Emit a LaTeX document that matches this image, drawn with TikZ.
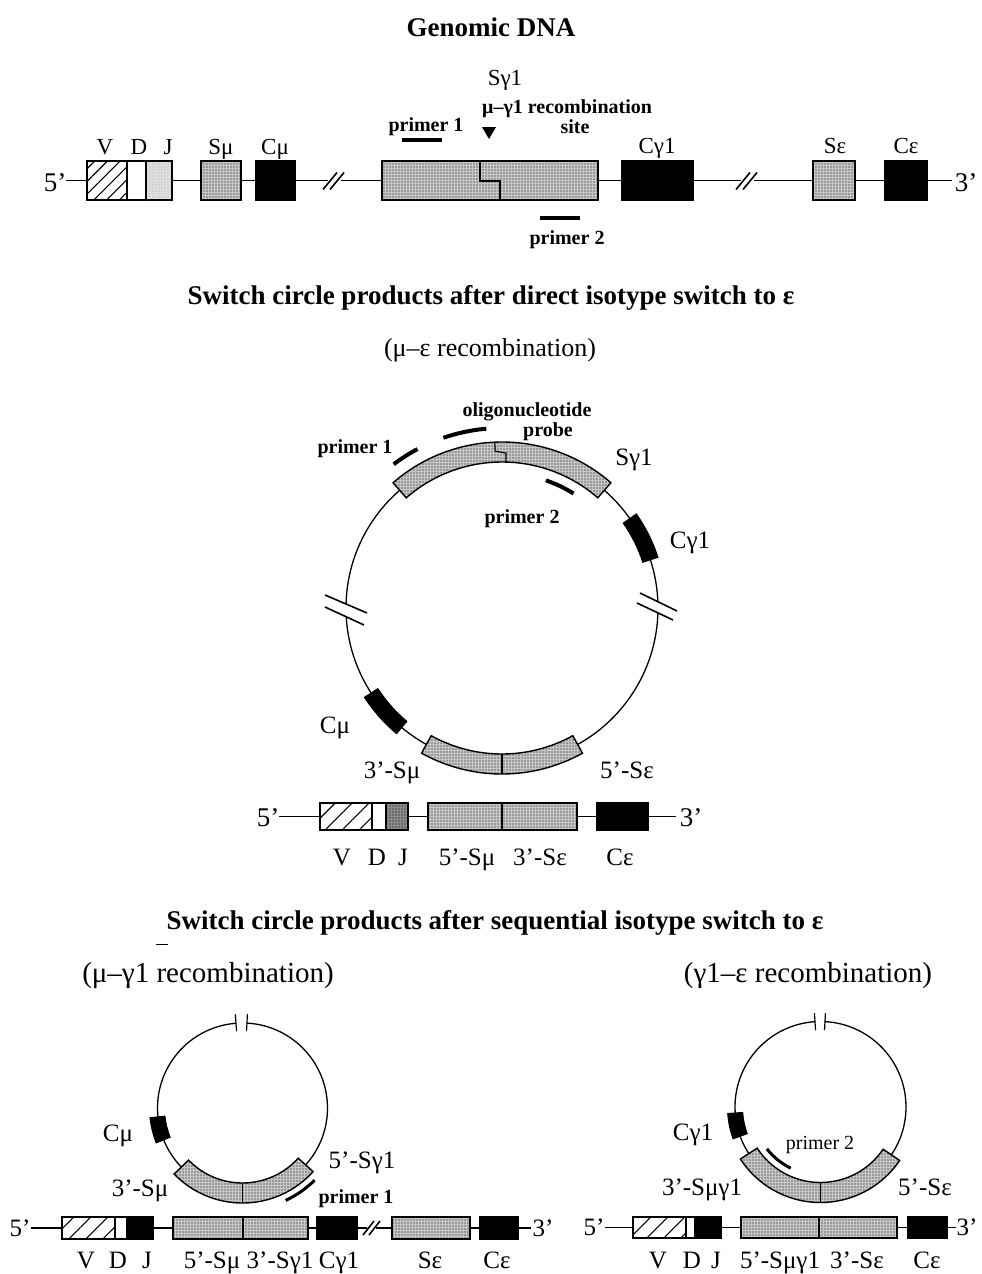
\documentclass[tikz,border=0pt]{standalone}
\usepackage{fontspec}
\setmainfont{Liberation Serif}
\usetikzlibrary{patterns.meta}
\newcommand\fs[1]{\fontsize{#1}{#1}\selectfont}
% box: style, name, x1, x2, ytop, ybottom
\newcommand\bx[6]{\node[#1, minimum width={#4-#3}, minimum height={#6-#5}] (#2) at (#3,#5) {};}
% annular box: style, a1, a2, rin, rout
\newcommand\abox[5]{\path[#1] (#2:#5) arc[start angle=#2,end angle=#3,radius=#5] -- (#3:#4) arc[start angle=#3,end angle=#2,radius=#4] -- cycle;}
\tikzset{
 ln/.style={line width=1.3pt},
 box/.style={draw, line width=1.5pt, inner sep=0pt, outer sep=0pt, anchor=north west},
 stipdots/.style={postaction={pattern={Dots[distance=3pt,radius=0.65pt]}, pattern color=black}},
 stip/.style={box, fill=black!22, stipdots},
 jlight/.style={box, fill=black!12, postaction={pattern={Dots[distance=3pt,radius=0.45pt]}, pattern color=black!70}},
 jdark/.style={box, fill=black!45, stipdots},
 hatchA/.style={box, pattern={Lines[angle=45,distance=9pt,line width=1.1pt]}, pattern color=black},
 hatchB/.style={box, pattern={Lines[angle=45,distance=12pt,line width=1.1pt]}, pattern color=black},
 wht/.style={box, fill=white},
 blk/.style={box, fill=black},
 astip/.style={draw, line width=1.4pt, fill=black!22, stipdots},
 ablk/.style={draw, line width=1pt, fill=black},
 pbar/.style={line width=4pt},
 pbarthin/.style={line width=3pt},
 brk/.style={line width=1.6pt},
 L/.style={inner sep=0pt, font={\fs{23}}, text height=15pt, text depth=0pt},
 R/.style={inner sep=0pt, font={\fs{25}}, text height=16.5pt, text depth=0pt},
 Q/.style={inner sep=0pt, font={\fs{27}}, text height=18pt, text depth=0pt},
 Qs/.style={inner sep=0pt, font={\fs{25}}, text height=17pt, text depth=0pt},
 P/.style={inner sep=0pt, font={\bfseries\fs{20}}, text height=13.5pt, text depth=0pt},
 Ps/.style={inner sep=0pt, font={\fs{20}}, text height=13pt, text depth=0pt},
 H/.style={inner sep=0pt, font={\bfseries\fs{27}}, text height=18pt, text depth=0pt},
 S/.style={inner sep=0pt, font={\fs{26}}, text height=17pt, text depth=0pt},
 Sb/.style={inner sep=0pt, font={\fs{29}}, text height=19pt, text depth=0pt},
}
\begin{document}
\begin{tikzpicture}[x=1pt,y=-1pt]
\fill[white] (0,0) rectangle (982,1274);
\useasboundingbox (0,0) rectangle (982,1274);

% ---------------- Genomic DNA ----------------
\node[H] (t1) at (491,27) {Genomic DNA};
\node[L] (tSg) at (505,78) {Sγ1};

\node[Q] (g5) at (55,182) {5'};
\bx{hatchA}{gV}{87}{127}{161}{200}
\bx{wht}{gD}{127}{146}{161}{200}
\bx{jlight}{gJ}{146}{172}{161}{200}
\bx{stip}{gSm}{201}{241}{161}{200}
\bx{blk}{gCm}{256}{295}{161}{200}
\coordinate (gb1) at (335,180.5);
\bx{stip}{gSg}{382}{598}{161}{200}
\bx{blk}{gCg}{622}{693}{161}{200}
\coordinate (gb2) at (748,180.5);
\bx{stip}{gSe}{813}{855}{161}{200}
\bx{blk}{gCe}{885}{927}{161}{200}
\node[Q] (g3) at (966,182) {3'};
\coordinate (g3s) at (952,180.5);

\draw[ln] (gV.west) -- (gV.west -| g5.east);
\draw[ln] (gJ.east) -- (gSm.west);
\draw[ln] (gSm.east) -- (gCm.west);
\draw[ln] (gCm.east) -- ([xshift=-7pt]gb1);
\draw[ln] ([xshift=6pt]gb1) -- (gSg.west);
\draw[ln] (gSg.east) -- (gCg.west);
\draw[ln] (gCg.east) -- ([xshift=-7pt]gb2);
\draw[ln] ([xshift=6pt]gb2) -- (gSe.west);
\draw[ln] (gSe.east) -- (gCe.west);
\draw[ln] (gCe.east) -- (g3s);
\draw[brk] ([shift={(-12,9)}]gb1) -- ++(14,-17);
\draw[brk] ([shift={(-5,9)}]gb1) -- ++(14,-17);
\draw[brk] ([shift={(-12,9)}]gb2) -- ++(14,-17);
\draw[brk] ([shift={(-5,9)}]gb2) -- ++(14,-17);
\draw[line width=1.3pt] (480,161) -- (480,181) -- (500,181) -- (500,200);

\node[L] (lV) at (105,147) {V};
\node[L] (lD) at (139,147) {D};
\node[L] (lJ) at (168,147) {J};
\node[L] (lSm) at (221,147) {Sμ};
\node[L] (lCm) at (275,147) {Cμ};
\node[L] (lCg) at (657,146) {Cγ1};
\node[L] (lSe) at (835,146) {Sε};
\node[L] (lCe) at (906,146) {Cε};

\node[P] (p1) at (426,125) {primer 1};
\coordinate (p1a) at (402,140); \coordinate (p1b) at (442,140);
\draw[pbar] (p1a) -- (p1b);
\fill (482,127) -- (496,127) -- (489,139) -- cycle;
\node[P, anchor=west] (rec) at (482,107) {μ–γ1 recombination};
\node[P] (site) at (575,127) {site};
\coordinate (p2a) at (540,218); \coordinate (p2b) at (580,218);
\draw[pbar] (p2a) -- (p2b);
\node[P] (p2) at (567,238) {primer 2};

% ---------------- direct switch ----------------
\node[H] (t2) at (491,295) {Switch circle products after direct isotype switch to ε};
\node[S] (t2b) at (490,348) {(μ–ε recombination)};

\begin{scope}[shift={(502,608)}, yscale=-1]
 \draw[ln] (2.6:156) arc[start angle=2.6,end angle=178.5,radius=156];
 \draw[ln] (183:156) arc[start angle=183,end angle=358.5,radius=156];
 \abox{astip}{49}{131}{146}{166}
 \draw[line width=1.2pt] (92.5:166) -- (92.5:157) -- (88.5:155) -- (88.5:146);
 \abox{ablk}{18}{35}{148}{164}
 \abox{ablk}{213}{230}{148}{164}
 \abox{astip}{241}{299}{146}{166}
 \draw[line width=1.2pt] (270:146) -- (270:166);
 \draw[pbar] (118:180) arc[start angle=118,end angle=127,radius=180];
 \draw[pbar] (95:180) arc[start angle=95,end angle=109,radius=180];
 \draw[pbar] (58:135) arc[start angle=58,end angle=71,radius=135];
\end{scope}
\draw[brk] (325,595) -- (367,613);
\draw[brk] (325,607) -- (364,625);
\draw[brk] (640,593) -- (677,611);
\draw[brk] (637,603) -- (673,620);

\node[P] (oli) at (527,410) {oligonucleotide};
\node[P] (prb) at (548,430) {probe};
\node[P] (cp1) at (355,447) {primer 1};
\node[R] (cSg) at (634,457) {Sγ1};
\node[P] (cp2) at (522,517) {primer 2};
\node[R] (cCg) at (690,540) {Cγ1};
\node[R] (cCm) at (335,725) {Cμ};
\node[R] (c3Sm) at (392,770) {3'-Sμ};
\node[R] (c5Se) at (627,770) {5'-Sε};

\node[Q] (m5) at (268,817) {5'};
\bx{hatchB}{mV}{320}{372}{803}{830}
\bx{wht}{mD}{372}{386}{803}{830}
\bx{jdark}{mJ}{386}{408}{803}{830}
\bx{stip}{mS1}{428}{502}{803}{830}
\bx{stip}{mS2}{502}{577}{803}{830}
\bx{blk}{mCe}{597}{648}{803}{830}
\node[Q] (m3) at (691,817) {3'};
\coordinate (m3s) at (676,816.5);
\draw[ln] (mV.west) -- (mV.west -| m5.east);
\draw[ln] (mJ.east) -- (mS1.west);
\draw[ln] (mS2.east) -- (mCe.west);
\draw[ln] (mCe.east) -- (m3s);
\node[R] (mlV) at (342,857) {V};
\node[R] (mlD) at (377,857) {D};
\node[R] (mlJ) at (403,857) {J};
\node[R] (mlS1) at (467,857) {5'-Sμ};
\node[R] (mlS2) at (540,857) {3'-Sε};
\node[R] (mlCe) at (620,857) {Cε};

% ---------------- sequential switch ----------------
\node[H] (t3) at (495,920) {Switch circle products after sequential isotype switch to ε};
\draw[line width=1pt] (156,944) -- (168,944);
\node[Sb] (t3a) at (208,973) {(μ–γ1 recombination)};
\node[Sb] (t3b) at (808,973) {(γ1–ε recombination)};

% left circle
\begin{scope}[shift={(242.5,1108)}, yscale=-1]
 \draw[ln] (94.4:85) arc[start angle=94.4,end angle=447,radius=85];
 \draw[line width=1.2pt] (94.4:77) -- (94.4:94);
 \draw[line width=1.2pt] (87:77) -- (87:94);
 \abox{ablk}{186}{202}{78}{93}
 \abox{astip}{224}{318}{75}{95}
 \draw[line width=1.2pt] (270:75) -- (270:95);
 \draw[pbarthin] (295:102) arc[start angle=295,end angle=315,radius=102];
\end{scope}
\node[R] (aCm) at (118,1133) {Cμ};
\node[R] (a3Sm) at (140,1188) {3'-Sμ};
\node[R] (a5Sg) at (362,1160) {5'-Sγ1};
\node[P] (ap1) at (356,1197) {primer 1};

\node[Qs] (b5) at (20,1228) {5'};
\bx{hatchB}{bV}{62}{115}{1217}{1239}
\bx{wht}{bD}{115}{127}{1217}{1239}
\bx{blk}{bJ}{127}{153}{1217}{1239}
\bx{stip}{bS1}{173}{243}{1217}{1239}
\bx{stip}{bS2}{243}{308}{1217}{1239}
\bx{blk}{bCg}{317}{357}{1217}{1239}
\coordinate (bb) at (372,1228);
\bx{stip}{bSe}{392}{470}{1217}{1239}
\bx{blk}{bCe}{480}{518}{1217}{1239}
\node[Qs] (b3) at (543,1228) {3'};
\coordinate (b3s) at (531,1228);
\draw[ln] (bV.west) -- (bV.west -| b5.east);
\draw[ln] (bJ.east) -- (bS1.west);
\draw[ln] (bS2.east) -- (bCg.west);
\draw[ln] (bCg.east) -- ([xshift=-5pt]bb);
\draw[ln] ([xshift=4pt]bb) -- (bSe.west);
\draw[ln] (bSe.east) -- (bCe.west);
\draw[ln] (bCe.east) -- (b3s);
\draw[brk] ([shift={(-9,7)}]bb) -- ++(11,-14);
\draw[brk] ([shift={(-3,7)}]bb) -- ++(11,-14);
\node[R] (blV) at (86,1260) {V};
\node[R] (blD) at (118,1260) {D};
\node[R] (blJ) at (147,1260) {J};
\node[R] (blS1) at (212,1260) {5'-Sμ};
\node[R] (blS2) at (280,1260) {3'-Sγ1};
\node[R] (blCg) at (339,1260) {Cγ1};
\node[R] (blSe) at (430,1260) {Sε};
\node[R] (blCe) at (497,1260) {Cε};

% right circle
\begin{scope}[shift={(820.5,1107)}, yscale=-1]
 \draw[ln] (93.7:85.5) arc[start angle=93.7,end angle=447,radius=85.5];
 \draw[line width=1.2pt] (93.7:77) -- (93.7:94);
 \draw[line width=1.2pt] (87:77) -- (87:94);
 \abox{ablk}{184}{200}{78}{93}
 \abox{astip}{213}{326}{75.5}{95.5}
 \draw[line width=1.2pt] (270:75.5) -- (270:95.5);
 \draw[pbarthin] (218:68) arc[start angle=218,end angle=244,radius=68];
\end{scope}
\node[R] (rCg) at (693,1132) {Cγ1};
\node[Ps] (rp2) at (820,1143) {primer 2};
\node[R] (r3S) at (702,1187) {3'-Sμγ1};
\node[R] (r5S) at (925,1187) {5'-Sε};

\node[Qs] (c5) at (594,1227) {5'};
\bx{hatchB}{cV}{633}{686}{1217}{1238}
\bx{wht}{cD}{686}{695}{1217}{1238}
\bx{blk}{cJ}{695}{721}{1217}{1238}
\bx{stip}{cS1}{741}{819}{1217}{1238}
\bx{stip}{cS2}{819}{897}{1217}{1238}
\bx{blk}{cCe}{908}{947}{1217}{1238}
\node[Qs] (c3) at (967,1227) {3'};
\coordinate (c3s) at (956,1227.5);
\draw[ln] (cV.west) -- (cV.west -| c5.east);
\draw[ln] (cJ.east) -- (cS1.west);
\draw[ln] (cS2.east) -- (cCe.west);
\draw[ln] (cCe.east) -- (c3s);
\node[R] (clV) at (658,1260) {V};
\node[R] (clD) at (692,1260) {D};
\node[R] (clJ) at (716,1260) {J};
\node[R] (clS1) at (780,1260) {5'-Sμγ1};
\node[R] (clS2) at (857,1260) {3'-Sε};
\node[R] (clCe) at (927,1260) {Cε};
\end{tikzpicture}
\end{document}
